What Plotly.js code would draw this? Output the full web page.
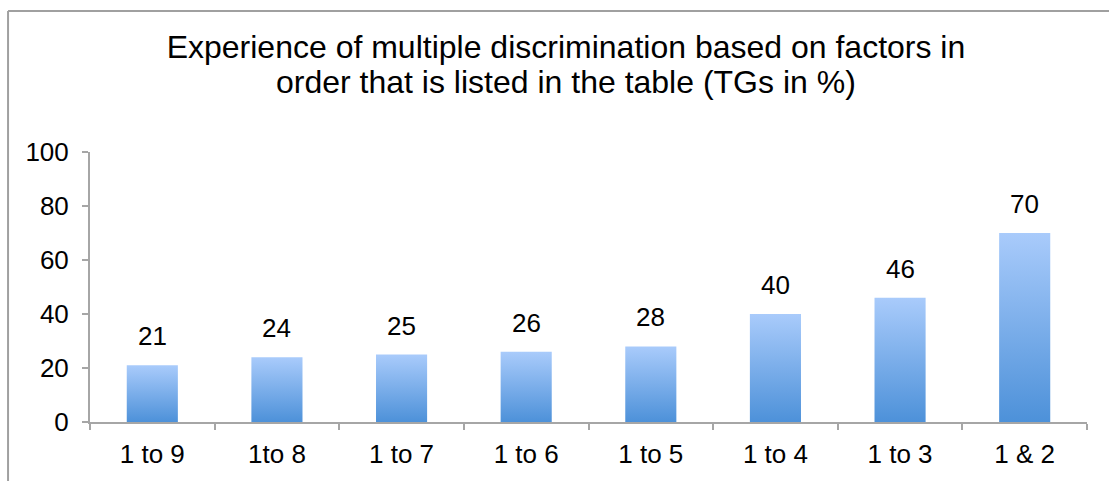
<!DOCTYPE html>
<html>
<head>
<meta charset="utf-8">
<script src="https://cdn.plot.ly/plotly-3.0.1.min.js"></script>
<style>
html,body{margin:0;padding:0;background:#fff;}
#chart{width:1109px;height:481px;}
</style>
</head>
<body>
<div id="chart"></div>
<script>
const categories = ["1 to 9", "1to 8", "1 to 7", "1 to 6", "1 to 5", "1 to 4", "1 to 3", "1 & 2"];
const values = [21, 24, 25, 26, 28, 40, 46, 70];
const yTicks = [0, 20, 40, 60, 80, 100];
const titleLine1 = "Experience of multiple discrimination based on factors in";
const titleLine2 = "order that is listed in the table (TGs in %)";

const FONT = "Liberation Sans, Arial, Helvetica, sans-serif";
const axisGrey = "#a6a6a6";

const trace = {
  type: "bar",
  x: categories,
  y: values,
  marker: {color: "#79adea", line: {width: 0}},
  hoverinfo: "none"
};

const annotations = categories.map((c, i) => ({
  x: c, y: values[i], xref: "x", yref: "y",
  text: String(values[i]), showarrow: false,
  yanchor: "bottom", yshift: 12,
  font: {family: FONT, size: 26, color: "#000"}
}));
annotations.push({
  x: 0.4774, y: 1.259, xref: "paper", yref: "paper",
  xanchor: "center", yanchor: "middle", showarrow: false,
  text: titleLine2,
  font: {family: FONT, size: 32, color: "#000"}
});

const layout = {
  width: 1109, height: 481,
  margin: {l: 90, r: 22, t: 152, b: 59},
  paper_bgcolor: "#fff", plot_bgcolor: "#fff",
  showlegend: false,
  bargap: 0.59,
  font: {family: FONT, color: "#000"},
  title: {
    text: titleLine1,
    font: {family: FONT, size: 32, color: "#000"},
    x: 0.4774, xref: "paper", xanchor: "center",
    y: 0.902, yref: "container", yanchor: "middle"
  },
  xaxis: {
    type: "category",
    showline: true, linecolor: axisGrey, linewidth: 2,
    ticks: "outside", tickson: "boundaries", ticklen: 6, tickcolor: axisGrey, tickwidth: 2,
    tickfont: {family: FONT, size: 26, color: "#000"},
    ticklabelstandoff: 8,
    showgrid: false, zeroline: false,
    fixedrange: true
  },
  yaxis: {
    range: [0, 100],
    tickvals: yTicks,
    showline: true, linecolor: axisGrey, linewidth: 2,
    ticks: "outside", ticklen: 6, tickcolor: axisGrey, tickwidth: 2,
    tickfont: {family: FONT, size: 26, color: "#000"},
    ticklabelstandoff: 8,
    showgrid: false, zeroline: false,
    fixedrange: true
  },
  annotations: annotations,
  shapes: [
    {type: "line", xref: "paper", yref: "paper", x0: -0.0822, x1: -0.0822, y0: -0.5, y1: 1.522,
     line: {color: "#a0a0a0", width: 2}},
    {type: "line", xref: "paper", yref: "paper", x0: -0.0822, x1: 1.2, y0: 1.522, y1: 1.522,
     line: {color: "#a0a0a0", width: 2}}
  ]
};

Plotly.newPlot("chart", [trace], layout, {displayModeBar: false, staticPlot: true}).then(gd => {
  const svg = gd.querySelector("svg.main-svg");
  const ns = "http://www.w3.org/2000/svg";
  let defs = svg.querySelector("defs");
  if (!defs) { defs = document.createElementNS(ns, "defs"); svg.insertBefore(defs, svg.firstChild); }
  const g = document.createElementNS(ns, "linearGradient");
  g.setAttribute("id", "barGrad");
  g.setAttribute("x1", "0"); g.setAttribute("y1", "0");
  g.setAttribute("x2", "0"); g.setAttribute("y2", "1");
  [["0", "#a9cbfb"], ["1", "#4d91d9"]].forEach(([o, c]) => {
    const s = document.createElementNS(ns, "stop");
    s.setAttribute("offset", o); s.setAttribute("stop-color", c);
    g.appendChild(s);
  });
  defs.appendChild(g);
  gd.querySelectorAll(".bars .point path").forEach(p => { p.style.fill = "url(#barGrad)"; });
});
</script>
</body>
</html>
